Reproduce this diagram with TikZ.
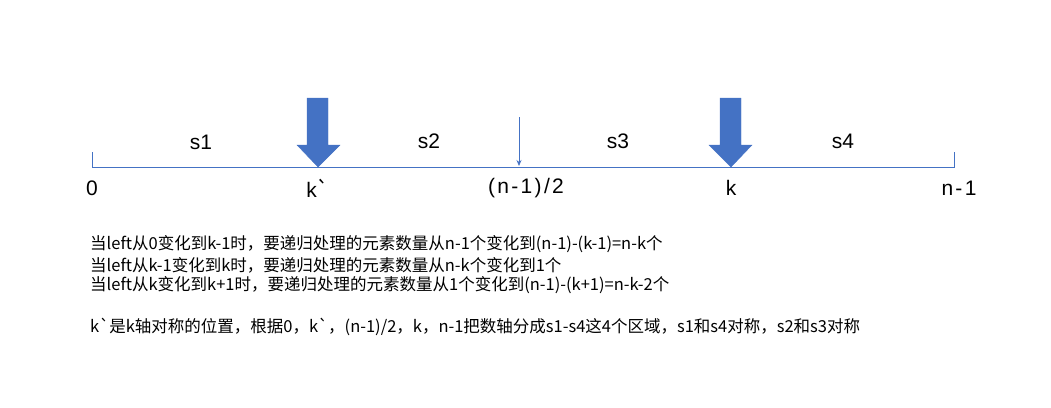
\documentclass[tikz,border=0pt]{standalone}
\usepackage{fontspec}
\usetikzlibrary{arrows.meta}
\setmainfont{Liberation Sans}[Ligatures=ResetAll]
\newfontfamily\wide{Liberation Sans}[Ligatures=ResetAll,LetterSpace=11]
\newfontfamily\cjk{Noto Sans CJK SC}[Ligatures=ResetAll]
\definecolor{axisblue}{HTML}{4472C4}
\begin{document}
\begin{tikzpicture}[x=1pt,y=-1pt,
  lbl/.style={font=\fontsize{21}{24}\selectfont, inner sep=0pt},
  wlbl/.style={font=\wide\fontsize{21}{24}\selectfont, inner sep=0pt},
  txt/.style={font=\cjk\fontsize{16.5}{18}\selectfont, inner sep=0pt, anchor=west},
  bigarrow/.style={fill=axisblue, draw=axisblue}]
\useasboundingbox (0,0) rectangle (1051,407);
\coordinate (L) at (92,167);
\coordinate (R) at (954,167);
\coordinate (Ltop) at (92,152);
\coordinate (Rtop) at (954,152);
\draw[axisblue, line width=0.8pt] (Ltop) -- (L) -- (R) -- (Rtop);
% big arrows
\fill[bigarrow] (307,98) -- (328,98) -- (328,145) -- (340,145) -- (318,167) -- (297,145) -- (307,145) -- cycle;
\fill[bigarrow] (720,98) -- (741,98) -- (741,145) -- (752,145) -- (731,167) -- (709,145) -- (720,145) -- cycle;
% small arrow
\coordinate (ms) at (519,117);
\coordinate (me) at (519,166);
\draw[axisblue, line width=0.8pt, -{Stealth[length=6pt,width=5pt]}] (ms) -- (me);
% region labels
\node[lbl] (s1) at (201,142) {s1};
\node[lbl] (s2) at (429,141) {s2};
\node[lbl] (s3) at (618,141) {s3};
\node[lbl] (s4) at (843,141) {s4};
% tick labels
\node[lbl] (t0) at (92,188) {0};
\node[lbl] (tk1) at (318,188) {k{\cjk `}};
\node[wlbl] (tm) at (526,188) {(n-1)/2};
\node[lbl] (tk) at (731,188) {k};
\node[wlbl] (tn) at (959,188) {n-1};
% text
\node[txt] (l1) at (90,244) {当left从0变化到k-1时，要递归处理的元素数量从n-1个变化到(n-1)-(k-1)=n-k个};
\node[txt] (l2) at (90,265) {当left从k-1变化到k时，要递归处理的元素数量从n-k个变化到1个};
\node[txt] (l3) at (90,285) {当left从k变化到k+1时，要递归处理的元素数量从1个变化到(n-1)-(k+1)=n-k-2个};
\node[txt] (l4) at (90,327) {k`是k轴对称的位置，根据0，k`，(n-1)/2，k，n-1把数轴分成s1-s4这4个区域，s1和s4对称，s2和s3对称};
\end{tikzpicture}
\end{document}
